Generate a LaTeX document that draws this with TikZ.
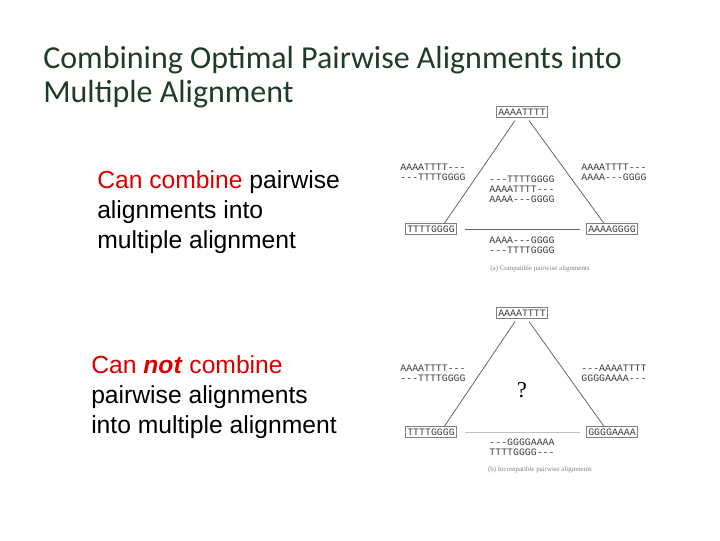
\documentclass[tikz,border=0pt]{standalone}
\usepackage{fontspec}
\setmainfont{Liberation Sans}
\newfontfamily\titlefont{Carlito}
\newfontfamily\seqfont{Liberation Mono}
\newfontfamily\capfont{Liberation Serif}
\definecolor{titlegreen}{RGB}{30,60,40}
\definecolor{seqgray}{RGB}{60,60,60}
\begin{document}
\begin{tikzpicture}[x=0.75pt,y=-0.75pt,
  seq/.style={font=\seqfont\fontsize{7.4}{7.5}\selectfont,text=seqgray,inner sep=0pt,align=left},
  seqbox/.style={seq,draw=gray,inner sep=1.5pt},
  edge/.style={draw=gray!80!black,line width=0.6pt},
  captxt/.style={font=\capfont\fontsize{5.2}{6}\selectfont,text=gray},
  body/.style={font=\fontsize{18.5}{22.5}\selectfont,align=left,anchor=north west,inner sep=0pt}]
\useasboundingbox (0,0) rectangle (720,540);
\node[anchor=north west,inner sep=0pt,align=left,text=titlegreen,font=\titlefont\fontsize{24}{25.5}\selectfont] (title) at (43,46) {Combining Optimal Pairwise Alignments into\\Multiple Alignment};
\node[body] (t1) at (97,170) {\textcolor{red!85!black}{Can combine} pairwise\\alignments into\\multiple alignment};
\node[body] (t2) at (91,355) {\textcolor{red!85!black}{Can \textbf{\textit{not}} combine}\\pairwise alignments\\into multiple alignment};
% diagram a
\node[seqbox] (a1) at (522,112) {AAAATTTT};
\node[seqbox] (a2) at (431,229) {TTTTGGGG};
\node[seqbox] (a3) at (612,229) {AAAAGGGG};
\path (a1.south) ++(-7,3) coordinate (a1l) (a1.south) ++(7,3) coordinate (a1r);
\draw[edge] (a1l) -- ([xshift=10pt]a2.north);
\draw[edge] (a1r) -- ([xshift=-6pt]a3.north);
\path (a2.east) ++(8,0) coordinate (a2e) (a3.west) ++(-6,0) coordinate (a3w);
\draw[edge] (a2e) -- (a3w);
\node[seq] (al) at (433,172) {AAAATTTT---\\---TTTTGGGG};
\node[seq] (ar) at (614,172) {AAAATTTT---\\AAAA---GGGG};
\node[seq] (ac) at (522,189) {---TTTTGGGG\\AAAATTTT---\\AAAA---GGGG};
\node[seq] (ab) at (522,245) {AAAA---GGGG\\---TTTTGGGG};
\node[captxt] (acap) at (540,269) {(a) Compatible pairwise alignments};
% diagram b
\node[seqbox] (b1) at (522,313) {AAAATTTT};
\node[seqbox] (b2) at (431,432) {TTTTGGGG};
\node[seqbox] (b3) at (612,432) {GGGGAAAA};
\path (b1.south) ++(-7,3) coordinate (b1l) (b1.south) ++(7,3) coordinate (b1r);
\draw[edge] (b1l) -- ([xshift=10pt]b2.north);
\draw[edge] (b1r) -- ([xshift=-6pt]b3.north);
\path (b2.east) ++(8,0) coordinate (b2e) (b3.west) ++(-6,0) coordinate (b3w);
\draw[edge,draw=gray!50] (b2e) -- (b3w);
\node[seq] (bl) at (433,373) {AAAATTTT---\\---TTTTGGGG};
\node[seq] (br) at (614,373) {---AAAATTTT\\GGGGAAAA---};
\node[font=\capfont\fontsize{17}{17}\selectfont] (q) at (522,390) {?};
\node[seq] (bb) at (522,447) {---GGGGAAAA\\TTTTGGGG---};
\node[captxt] (bcap) at (540,470) {(b) Incompatible pairwise alignments};
\end{tikzpicture}
\end{document}
